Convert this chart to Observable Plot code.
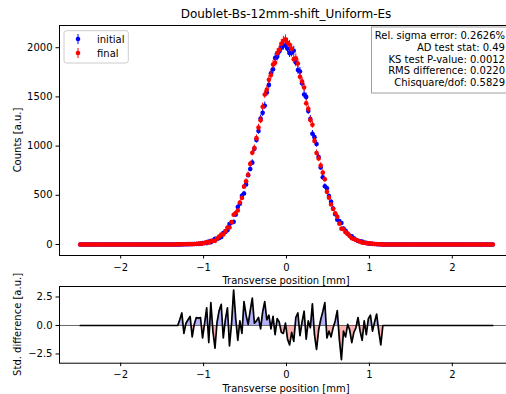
<!DOCTYPE html>
<html>
<head>
<meta charset="utf-8">
<script src="https://cdn.jsdelivr.net/npm/d3@7"></script>
<script src="https://cdn.jsdelivr.net/npm/@observablehq/plot@0.6"></script>
<style>
html, body { margin:0; padding:0; background:#fff; width:506px; height:394px; overflow:hidden; }
#chart { position:relative; width:506px; height:394px; overflow:hidden; background:#fff; }
#chart svg { position:absolute; left:0; max-width:none !important; }
</style>
</head>
<body>
<div id="chart"></div>
<script>
const titleText = "Doublet-Bs-12mm-shift_Uniform-Es";
const xLabel = "Transverse position [mm]";
const yLabelTop = "Counts [a.u.]";
const yLabelBottom = "Std. difference [a.u.]";
const seriesNames = ["initial", "final"];
const statsLines = [
  "Rel. sigma error: 0.2626%",
  "AD test stat: 0.49",
  "KS test P-value: 0.0012",
  "RMS difference: 0.0220",
  "Chisquare/dof: 0.5829"
];
const xTicks = [-2, -1, 0, 1, 2];
const yTicksTop = [0, 500, 1000, 1500, 2000];
const yTicksBottom = [-2.5, 0, 2.5];

const binCenters = [
-2.4875,-2.4625,-2.4375,-2.4125,-2.3875,-2.3625,-2.3375,-2.3125,-2.2875,-2.2625,
-2.2375,-2.2125,-2.1875,-2.1625,-2.1375,-2.1125,-2.0875,-2.0625,-2.0375,-2.0125,
-1.9875,-1.9625,-1.9375,-1.9125,-1.8875,-1.8625,-1.8375,-1.8125,-1.7875,-1.7625,
-1.7375,-1.7125,-1.6875,-1.6625,-1.6375,-1.6125,-1.5875,-1.5625,-1.5375,-1.5125,
-1.4875,-1.4625,-1.4375,-1.4125,-1.3875,-1.3625,-1.3375,-1.3125,-1.2875,-1.2625,
-1.2375,-1.2125,-1.1875,-1.1625,-1.1375,-1.1125,-1.0875,-1.0625,-1.0375,-1.0125,
-0.9875,-0.9625,-0.9375,-0.9125,-0.8875,-0.8625,-0.8375,-0.8125,-0.7875,-0.7625,
-0.7375,-0.7125,-0.6875,-0.6625,-0.6375,-0.6125,-0.5875,-0.5625,-0.5375,-0.5125,
-0.4875,-0.4625,-0.4375,-0.4125,-0.3875,-0.3625,-0.3375,-0.3125,-0.2875,-0.2625,
-0.2375,-0.2125,-0.1875,-0.1625,-0.1375,-0.1125,-0.0875,-0.0625,-0.0375,-0.0125,
0.0125,0.0375,0.0625,0.0875,0.1125,0.1375,0.1625,0.1875,0.2125,0.2375,
0.2625,0.2875,0.3125,0.3375,0.3625,0.3875,0.4125,0.4375,0.4625,0.4875,
0.5125,0.5375,0.5625,0.5875,0.6125,0.6375,0.6625,0.6875,0.7125,0.7375,
0.7625,0.7875,0.8125,0.8375,0.8625,0.8875,0.9125,0.9375,0.9625,0.9875,
1.0125,1.0375,1.0625,1.0875,1.1125,1.1375,1.1625,1.1875,1.2125,1.2375,
1.2625,1.2875,1.3125,1.3375,1.3625,1.3875,1.4125,1.4375,1.4625,1.4875,
1.5125,1.5375,1.5625,1.5875,1.6125,1.6375,1.6625,1.6875,1.7125,1.7375,
1.7625,1.7875,1.8125,1.8375,1.8625,1.8875,1.9125,1.9375,1.9625,1.9875,
2.0125,2.0375,2.0625,2.0875,2.1125,2.1375,2.1625,2.1875,2.2125,2.2375,
2.2625,2.2875,2.3125,2.3375,2.3625,2.3875,2.4125,2.4375,2.4625,2.4875
];

const initialCounts = [
0,0,0,0,0,0,0,0,0,0,
0,0,0,0,0,0,0,0,0,0,
0,0,0,0,0,0,0,0,0,0,
0,0,0,0,0,0,0,0,0,0,
0,0,0,0,0,0,0,1,1,1,
3,3,3,3,5,5,5,6,8,15,
15,14,29,22,40,57,57,65,77,117,
128,145,207,223,230,304,381,414,495,518,
611,705,767,832,972,1063,1154,1279,1338,1410,
1546,1622,1740,1782,1896,1908,1962,2000,2020,2025,
1990,1945,1950,1970,1851,1773,1758,1639,1525,1500,
1358,1276,1125,1091,1022,890,783,684,592,571,
492,435,366,307,251,238,219,163,140,108,
92,82,62,48,35,32,29,17,16,10,
7,8,5,3,3,3,1,0,0,0,
0,0,0,0,0,0,0,0,0,0,
0,0,0,0,0,0,0,0,0,0,
0,0,0,0,0,0,0,0,0,0,
0,0,0,0,0,0,0,0,0,0,
0,0,0,0,0,0,0,0,0,0
];

const finalCounts = [
0,0,0,0,0,0,0,0,0,0,
0,0,0,0,0,0,0,0,0,0,
0,0,0,0,0,0,0,0,0,0,
0,0,0,0,0,0,0,0,0,0,
0,0,0,0,0,0,0,1,2,3,
2,3,4,5,2,5,7,8,11,9,
16,24,19,38,36,37,61,81,101,101,
136,173,172,227,302,320,345,426,473,588,
643,709,819,932,980,1081,1188,1263,1400,1524,
1574,1674,1722,1830,1848,1946,1980,2040,2070,2085,
2050,2030,1990,1884,1893,1839,1705,1657,1595,1435,
1380,1266,1217,1053,930,874,803,730,662,535,
476,406,360,317,281,212,161,155,124,110,
86,64,56,46,41,28,19,19,12,12,
11,6,5,5,2,0,1,0,0,0,
0,0,0,0,0,0,0,0,0,0,
0,0,0,0,0,0,0,0,0,0,
0,0,0,0,0,0,0,0,0,0,
0,0,0,0,0,0,0,0,0,0,
0,0,0,0,0,0,0,0,0,0
];

const stdDiff = [
0,0,0,0,0,0,0,0,0,0,
0,0,0,0,0,0,0,0,0,0,
0,0,0,0,0,0,0,0,0,0,
0,0,0,0,0,0,0,0,0,0,
0,0,0,0,0,0,0,0,0.5,1.1,
-0.7,0.2,0.5,0.8,-1.0,0.1,0.7,0.65,0.7,-1.1,
0.2,1.55,-1.5,2.0,-0.5,-2.0,0.3,1.3,1.85,-1.1,
0.5,1.55,-1.8,0.2,3.1,0.6,-1.3,0.4,-0.7,2.1,
0.9,0.1,1.3,2.4,0.2,0.4,0.7,-0.3,1.2,2.1,
0.5,0.9,-0.3,0.8,-0.8,0.6,0.3,-0.6,-0.7,0.2,
-1.2,-1.7,-0.6,-1.4,0.7,1.1,-0.9,0.3,1.25,-1.2,
0.4,-0.2,1.9,-0.8,-2.1,-0.4,0.5,1.2,2.0,-1.1,
-0.5,-1.0,-0.2,0.4,1.3,-1.2,-3.0,-0.5,-1.0,0.1,
-0.4,-1.5,-0.6,-0.2,0.7,-0.5,-1.3,0.4,-0.8,0.6,
0.9,-0.5,0.3,1.0,-0.5,-1.7,0,0,0,0,
0,0,0,0,0,0,0,0,0,0,
0,0,0,0,0,0,0,0,0,0,
0,0,0,0,0,0,0,0,0,0,
0,0,0,0,0,0,0,0,0,0,
0,0,0,0,0,0,0,0,0,0
];

const FONT = "'DejaVu Sans', sans-serif";
const W = 520;
const xDomain = [-2.738, 2.738];
const minus = s => s.replace("-", "\u2212");
const fmtX = d => minus(String(d));
const fmtYB = d => minus(d.toFixed(1));
const BLUE = "#0000ff", RED = "#ff0000";
const POSFILL = "#b3b3ff", NEGFILL = "#ffb3b3";

const topData = binCenters.map((x, i) => ({
  x, yi: initialCounts[i], ei: Math.sqrt(initialCounts[i]),
  yf: finalCounts[i], ef: Math.sqrt(finalCounts[i])
}));
const diffData = binCenters.map((x, i) => ({x, d: stdDiff[i]}));

const common = {
  width: W, marginLeft: 59, marginRight: 7,
  style: {fontFamily: FONT, fontSize: "10px", color: "black", background: "transparent", overflow: "visible", maxWidth: "none"}
};

const TOP_H = 286;
const topPlot = Plot.plot({
  ...common, height: TOP_H, marginTop: 25, marginBottom: 31,
  x: {domain: xDomain, ticks: xTicks, tickFormat: fmtX, tickSize: 3.5, tickPadding: 4.5, label: null},
  y: {domain: [-112, 2226], ticks: yTicksTop, tickFormat: d => String(d), tickSize: 3.5, tickPadding: 3.5, label: null},
  marks: [
    Plot.ruleX(topData, {x: "x", y1: d => d.yi - d.ei, y2: d => d.yi + d.ei, stroke: BLUE, strokeWidth: 1}),
    Plot.dot(topData, {x: "x", y: "yi", r: 2.3, fill: BLUE, stroke: "none"}),
    Plot.ruleX(topData, {x: "x", y1: d => d.yf - d.ef, y2: d => d.yf + d.ef, stroke: RED, strokeWidth: 1}),
    Plot.dot(topData, {x: "x", y: "yf", r: 2.3, fill: RED, stroke: "none"}),
    Plot.frame({stroke: "black", strokeWidth: 1})
  ]
});

const BOT_TOP = 276, BOT_H = 118, BOT_MT = 10, BOT_MB = 31.3;
const yBDomain = [-3.31, 3.42];
const bottomPlot = Plot.plot({
  ...common, height: BOT_H, marginTop: BOT_MT, marginBottom: BOT_MB,
  x: {domain: xDomain, ticks: xTicks, tickFormat: fmtX, tickSize: 3.5, tickPadding: 4.5, label: null},
  y: {domain: yBDomain, ticks: yTicksBottom, tickFormat: fmtYB, tickSize: 3.5, tickPadding: 3.5, label: null},
  marks: [
    Plot.areaY(diffData, {x: "x", y1: 0, y2: "d", fill: POSFILL}),
    Plot.areaY(diffData, {x: "x", y1: 0, y2: "d", fill: NEGFILL}),
    Plot.ruleY([0], {stroke: "#404040", strokeWidth: 0.8}),
    Plot.lineY(diffData, {x: "x", y: "d", stroke: "black", strokeWidth: 1.7}),
    Plot.frame({stroke: "black", strokeWidth: 1})
  ]
});

const chart = document.getElementById("chart");
topPlot.style.top = "0px";
bottomPlot.style.top = BOT_TOP + "px";
chart.appendChild(topPlot);
chart.appendChild(bottomPlot);

// clip fills above / below zero
const yB = d3.scaleLinear(yBDomain, [BOT_H - BOT_MB, BOT_MT]);
const y0 = yB(0);
const bsvg = d3.select(bottomPlot);
const defs = bsvg.append("defs");
defs.append("clipPath").attr("id", "clip-pos").append("rect")
  .attr("x", 0).attr("y", 0).attr("width", W).attr("height", y0);
defs.append("clipPath").attr("id", "clip-neg").append("rect")
  .attr("x", 0).attr("y", y0).attr("width", W).attr("height", BOT_H - y0);
bottomPlot.querySelectorAll("g").forEach(g => {
  const f = (g.getAttribute("fill") || "").toLowerCase();
  if (f === POSFILL) g.setAttribute("clip-path", "url(#clip-pos)");
  if (f === NEGFILL) g.setAttribute("clip-path", "url(#clip-neg)");
});

// texts on top panel
const tsvg = d3.select(topPlot);
const txt = (sel, x, y, s, anchor = "middle", size = 10) =>
  sel.append("text").attr("x", x).attr("y", y).attr("text-anchor", anchor)
    .attr("font-size", size).attr("font-family", FONT).attr("fill", "black").text(s);
txt(tsvg, 286, 17.5, titleText, "middle", 12);
txt(tsvg, 286, 284, xLabel);
tsvg.append("text").attr("transform", "translate(20.5,140) rotate(-90)")
  .attr("text-anchor", "middle").attr("font-size", 10).attr("font-family", FONT).attr("fill", "black").text(yLabelTop);

// legend
const lg = tsvg.append("g");
lg.append("rect").attr("x", 64).attr("y", 30.7).attr("width", 64.3).attr("height", 32.3)
  .attr("rx", 2.5).attr("fill", "white").attr("fill-opacity", 0.8).attr("stroke", "#cccccc").attr("stroke-width", 1);
[[seriesNames[0], BLUE, 39], [seriesNames[1], RED, 53]].forEach(([name, color, y]) => {
  lg.append("line").attr("x1", 78).attr("x2", 78).attr("y1", y - 5).attr("y2", y + 5)
    .attr("stroke", color).attr("stroke-width", 1);
  lg.append("circle").attr("cx", 78).attr("cy", y).attr("r", 2.3).attr("fill", color);
  txt(lg, 97, y + 3.6, name, "start");
});

// stats box
const sb = tsvg.append("g");
sb.append("rect").attr("x", 371.5).attr("y", 27).attr("width", 140).attr("height", 66)
  .attr("fill", "white").attr("stroke", "#a0a0a0").attr("stroke-width", 1);
statsLines.forEach((s, i) => txt(sb, 505, 39.2 + 11.7 * i, s, "end"));

// texts on bottom panel
txt(bsvg, 286, 391.7 - BOT_TOP, xLabel);
bsvg.append("text").attr("transform", `translate(20.5,${324.4 - BOT_TOP}) rotate(-90)`)
  .attr("text-anchor", "middle").attr("font-size", 10).attr("font-family", FONT).attr("fill", "black").text(yLabelBottom);
</script>
</body>
</html>
